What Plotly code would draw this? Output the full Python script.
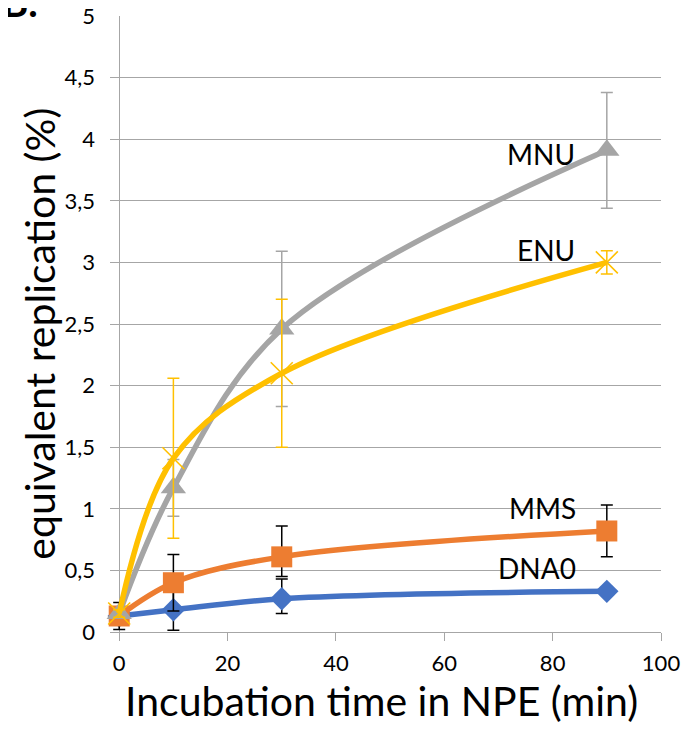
import plotly.graph_objects as go

time_min = [0, 10, 30, 90]

dna0 = [0.13, 0.18, 0.27, 0.33]
dna0_err_plus = [0.05, 0.16, 0.16, 0.0]
dna0_err_minus = [0.05, 0.165, 0.12, 0.0]

mms = [0.13, 0.40, 0.61, 0.82]
mms_err_plus = [0.11, 0.23, 0.25, 0.21]
mms_err_minus = [0.11, 0.23, 0.16, 0.21]

mnu = [0.15, 1.17, 2.46, 3.91]
mnu_err = [0.03, 0.23, 0.63, 0.47]

enu = [0.15, 1.41, 2.10, 3.00]
enu_err = [0.03, 0.65, 0.60, 0.095]

labels = ["MNU", "ENU", "MMS", "DNA0"]
label_x = [84.5, 84.5, 84.7, 84.7]
label_y = [3.88, 3.10, 1.01, 0.52]

x_title = "Incubation time in NPE (min)"
y_title = "equivalent replication (%)"

BLUE = "#4472C4"
ORANGE = "#ED7D31"
GRAY = "#A5A5A5"
YELLOW = "#FFC000"
AXIS = "#A6A6A6"
FONT = "Lato"

fig = go.Figure()


def add_series(y, color, symbol, size, ep, em, ecolor, mline=None):
    marker = dict(symbol=symbol, size=size, color=color)
    if mline:
        marker["line"] = mline
    fig.add_trace(go.Scatter(
        x=time_min, y=y, mode="lines+markers",
        line=dict(color=color, width=5.5, shape="spline", smoothing=1.0),
        marker=marker,
        error_y=dict(type="data", array=ep, arrayminus=em, symmetric=False,
                     color=ecolor, thickness=1.5, width=6),
        showlegend=False, cliponaxis=False,
    ))


add_series(dna0, BLUE, "diamond", 18, dna0_err_plus, dna0_err_minus, "black")
add_series(mms, ORANGE, "square", 21, mms_err_plus, mms_err_minus, "black")
add_series(mnu, GRAY, "triangle-up", 22, mnu_err, mnu_err, GRAY)
add_series(enu, YELLOW, "x-thin-open", 22, enu_err, enu_err, YELLOW,
           mline=dict(color=YELLOW, width=1.6))

for t, lx, ly in zip(labels, label_x, label_y):
    fig.add_annotation(x=lx, y=ly, text=t, showarrow=False, xanchor="right",
                       yanchor="middle", font=dict(family=FONT, size=28, color="black"))

# panel letter (cut at the top like the reference)
fig.add_annotation(xref="paper", yref="paper", x=-0.199, y=1.022, text="<b>B.</b>",
                   showarrow=False, xanchor="left", yanchor="middle",
                   font=dict(family=FONT, size=40, color="black"))

# axis titles
fig.add_annotation(xref="paper", yref="paper", x=0.492, y=-0.111, text=x_title,
                   showarrow=False, xanchor="center", yanchor="middle",
                   font=dict(family=FONT, size=41, color="black"))
fig.add_annotation(xref="paper", yref="paper", x=-0.128, y=0.485, text=y_title,
                   showarrow=False, xanchor="center", yanchor="middle", textangle=-90,
                   font=dict(family=FONT, size=41, color="black"))

fig.update_layout(
    width=697, height=731,
    margin=dict(l=102, r=44, t=8, b=107, autoexpand=False),
    paper_bgcolor="white", plot_bgcolor="white",
    separators=",.",
    font=dict(family=FONT, color="black"),
    xaxis=dict(
        range=[-1.7, 100], tickvals=[0, 20, 40, 60, 80, 100],
        showgrid=False, zeroline=True, zerolinecolor=AXIS, zerolinewidth=1.3,
        showline=True, linecolor=AXIS, linewidth=1.3,
        ticks="outside", ticklen=8, tickcolor=AXIS,
        tickfont=dict(size=22, family=FONT), automargin=False,
        ticklabelstandoff=3, ticklabeloverflow="allow",
    ),
    yaxis=dict(
        range=[0, 5], dtick=0.5, tickformat=",.1~f",
        showgrid=True, gridcolor=AXIS, gridwidth=1.3,
        zeroline=False, showline=False, ticks="",
        tickfont=dict(size=22, family=FONT), automargin=False,
        ticklabelstandoff=14, ticklabeloverflow="allow",
    ),
)

fig.write_html("out.html")
